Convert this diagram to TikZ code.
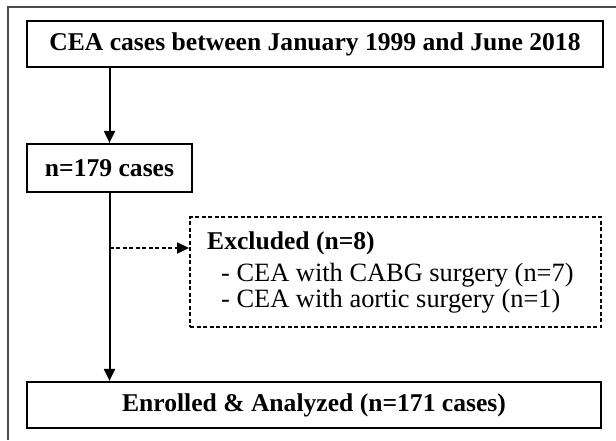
\documentclass[tikz,border=0pt]{standalone}
\usepackage{fontspec}
\setmainfont{Liberation Serif}
\usetikzlibrary{arrows.meta}
\begin{document}
\begin{tikzpicture}[x=1pt,y=-1pt,
  box/.style={draw=black,line width=2.2pt,rectangle,inner sep=0pt,
    font=\fontsize{25.6}{30}\selectfont\bfseries},
  dbox/.style={draw=black,line width=1.8pt,rectangle,dash pattern=on 4pt off 2.5pt,inner sep=0pt},
  arr/.style={line width=2pt,-{Triangle[length=12pt,width=11pt]}},
  darr/.style={line width=1.8pt,dash pattern=on 4pt off 2.5pt,-{Triangle[length=12pt,width=11pt]}},
  btxt/.style={inner sep=0pt,anchor=base west,font=\fontsize{25.6}{30}\selectfont\bfseries},
  rtxt/.style={inner sep=0pt,anchor=base west,font=\fontsize{26.4}{30}\selectfont},
]
\useasboundingbox (0,0) rectangle (616,440);
\fill[white] (0,0) rectangle (616,440);
\draw[color=black!70,line width=1.2pt] (8,440) -- (8,7) -- (616,7);

\node[box,minimum width=576pt,minimum height=46pt] (top) at (315,44) {CEA cases between January 1999 and June 2018};
\node[box,minimum width=165pt,minimum height=48pt] (n179) at (109.5,168) {n=179 cases};
\node[dbox,minimum width=411pt,minimum height=110pt] (excl) at (395.5,272) {};
\node[box,minimum width=574pt,minimum height=46pt] (bot) at (314,405) {Enrolled \& Analyzed (n=171 cases)};

\node[btxt] (e1) at (207,249) {Excluded (n=8)};
\node[rtxt] (e2) at (221,281) {- CEA with CABG surgery (n=7)};
\node[rtxt] (e3) at (221,307) {- CEA with aortic surgery (n=1)};

\draw[arr] (top.south -| n179.north) -- (n179.north);
\draw[arr] (n179.south) -- (n179.south |- bot.north);
\coordinate (dj) at (109.5,248);
\draw[darr] (dj) -- (dj -| excl.west);
\end{tikzpicture}
\end{document}
